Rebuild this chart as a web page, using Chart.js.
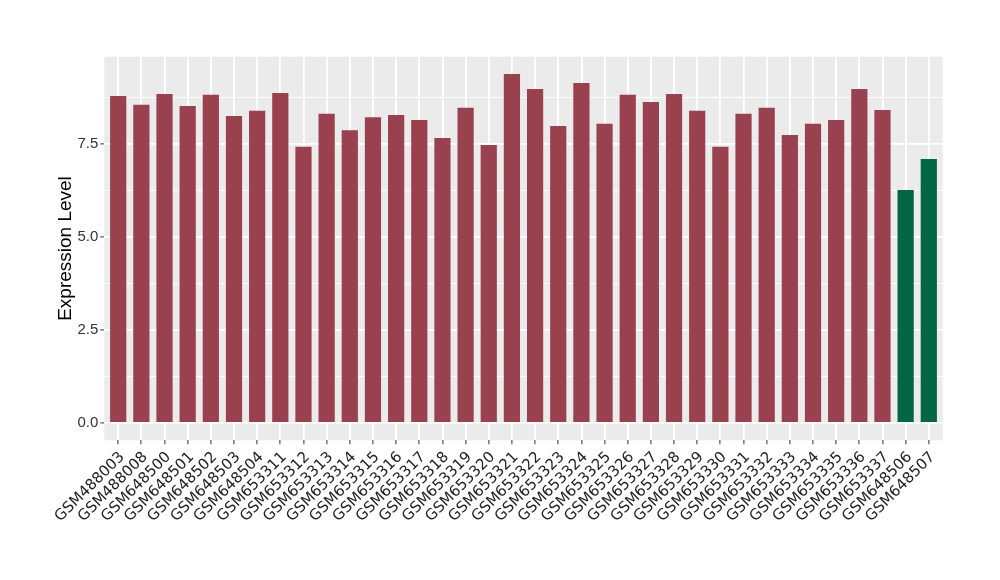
<!DOCTYPE html>
<html>
<head>
<meta charset="utf-8">
<script src="https://cdn.jsdelivr.net/npm/chart.js@4"></script>
<style>
html,body{margin:0;padding:0;background:#fff;}
#wrap{width:1000px;height:580px;}
</style>
</head>
<body>
<div id="wrap"><canvas id="c" width="1000" height="580"></canvas></div>
<script>
const categories = ["GSM488003","GSM488008","GSM648500","GSM648501","GSM648502","GSM648503","GSM648504",
  "GSM653311","GSM653312","GSM653313","GSM653314","GSM653315","GSM653316","GSM653317","GSM653318","GSM653319",
  "GSM653320","GSM653321","GSM653322","GSM653323","GSM653324","GSM653325","GSM653326","GSM653327","GSM653328",
  "GSM653329","GSM653330","GSM653331","GSM653332","GSM653333","GSM653334","GSM653335","GSM653336","GSM653337",
  "GSM648506","GSM648507"];
const values = [8.80,8.56,8.85,8.53,8.83,8.26,8.40,8.88,7.43,8.32,7.88,8.23,8.29,8.15,7.67,8.48,
  7.48,9.39,8.99,7.99,9.15,8.05,8.83,8.64,8.85,8.40,7.43,8.32,8.48,7.75,8.05,8.15,8.99,8.42,
  6.27,7.10];
const groups = Array(34).fill("a").concat(["b","b"]);
const groupColors = {a:"#99414F", b:"#006644"};
const yMajorTicks = [0, 2.5, 5, 7.5];
const yMinorTicks = [1.25, 3.75, 6.25, 8.75];

const bgPlugin = {
  id: 'panelBg',
  beforeDraw(chart) {
    const a = chart.chartArea, ctx = chart.ctx;
    ctx.save();
    ctx.fillStyle = '#EBEBEB';
    ctx.fillRect(a.left, a.top, a.right - a.left, a.bottom - a.top);
    ctx.restore();
  }
};

const PLOT_LEFT = 104.3, PLOT_RIGHT = 942.7, PLOT_TOP = 56.7, PLOT_BOTTOM = 440.3;
const PAD_LEFT = 54;

new Chart(document.getElementById('c'), {
  type: 'bar',
  data: {
    datasets: [{
      data: values.map((v, i) => ({x: i, y: v})),
      backgroundColor: groups.map(g => groupColors[g]),
      borderWidth: 0,
      barPercentage: 0.7,
      categoryPercentage: 1.0
    }]
  },
  options: {
    responsive: false,
    animation: false,
    layout: {padding: {left: PAD_LEFT, right: 1000 - PLOT_RIGHT, top: PLOT_TOP, bottom: 0}},
    plugins: {legend: {display: false}, tooltip: {enabled: false}},
    scales: {
      x: {
        type: 'linear',
        offset: false,
        min: -0.6,
        max: categories.length - 1 + 0.6,
        afterBuildTicks(scale) { scale.ticks = categories.map((_, i) => ({value: i})); },
        afterFit(scale) { scale.height = 580 - PLOT_BOTTOM; },
        ticks: {
          autoSkip: false,
          minRotation: 45,
          maxRotation: 45,
          padding: 4,
          labelOffset: 4,
          color: '#222',
          font: {family: 'DejaVu Sans, sans-serif', size: 15},
          callback: (v) => categories[v] ?? ''
        },
        grid: {
          offset: false,
          color: '#FFFFFF',
          lineWidth: 1.8,
          tickColor: '#333',
          tickWidth: 1,
          tickLength: 4
        },
        border: {display: false}
      },
      y: {
        type: 'linear',
        min: -0.466,
        max: 9.856,
        afterBuildTicks(scale) {
          scale.ticks = yMajorTicks.concat(yMinorTicks).sort((a, b) => a - b).map(v => ({value: v}));
        },
        afterFit(scale) { scale.width = PLOT_LEFT - PAD_LEFT; },
        ticks: {
          padding: 2,
          color: '#333',
          font: {family: 'Liberation Sans, Arial, sans-serif', size: 15},
          callback: (v) => yMajorTicks.includes(v) ? v.toFixed(1) : ''
        },
        grid: {
          color: '#FFFFFF',
          lineWidth: (ctx) => (ctx.tick && yMajorTicks.includes(ctx.tick.value)) ? 1.8 : 0.9,
          tickColor: (ctx) => (ctx.tick && yMajorTicks.includes(ctx.tick.value)) ? '#333' : 'rgba(0,0,0,0)',
          tickWidth: 1,
          tickLength: 4
        },
        border: {display: false},
        title: {
          display: true,
          text: 'Expression Level',
          color: '#000',
          font: {family: 'Liberation Sans, Arial, sans-serif', size: 19},
          padding: {top: 0, bottom: 0}
        }
      }
    }
  },
  plugins: [bgPlugin]
});
</script>
</body>
</html>
